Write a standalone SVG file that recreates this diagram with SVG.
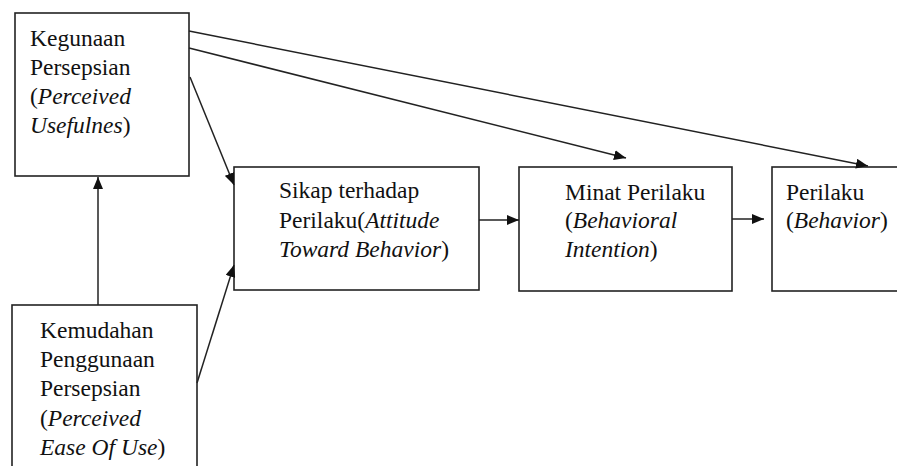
<svg xmlns="http://www.w3.org/2000/svg" width="897" height="466" viewBox="0 0 897 466">
<style>
.box{fill:#fff;stroke:#222;stroke-width:1.6}
.ln{fill:none;stroke:#222;stroke-width:1.5;marker-end:url(#ah)}
.t{font-size:23.5px;fill:#111}
.i{font-style:italic}
</style>
<defs>
<marker id="ah" viewBox="0 0 12 10" refX="12" refY="5" markerWidth="12" markerHeight="10" markerUnits="userSpaceOnUse" orient="auto">
<path d="M0,0 L12,5 L0,10 Z" fill="#111"/>
</marker>
</defs>
<g class="t" font-family="Liberation Serif, Times New Roman, Tinos, DejaVu Serif, serif">
<g id="n1">
<rect class="box" x="15" y="13" width="174" height="163"/>
<text x="30" y="46">Kegunaan</text>
<text x="30" y="75">Persepsian</text>
<text x="30" y="104">(<tspan class="i">Perceived</tspan></text>
<text x="30" y="133"><tspan class="i">Usefulnes</tspan>)</text>
</g>
<g id="n2">
<rect class="box" x="12" y="305" width="185" height="175"/>
<text x="40" y="338">Kemudahan</text>
<text x="40" y="367">Penggunaan</text>
<text x="40" y="396">Persepsian</text>
<text x="40" y="426">(<tspan class="i">Perceived</tspan></text>
<text x="40" y="455"><tspan class="i">Ease Of Use</tspan>)</text>
</g>
<g id="n3">
<rect class="box" x="234" y="167" width="245" height="123"/>
<text x="279" y="198">Sikap terhadap</text>
<text x="279" y="228">Perilaku(<tspan class="i">Attitude</tspan></text>
<text x="279" y="257"><tspan class="i">Toward Behavior</tspan>)</text>
</g>
<g id="n4">
<rect class="box" x="519" y="167" width="213" height="124"/>
<text x="565" y="200">Minat Perilaku</text>
<text x="565" y="228">(<tspan class="i">Behavioral</tspan></text>
<text x="565" y="257"><tspan class="i">Intention</tspan>)</text>
</g>
<g id="n5">
<rect class="box" x="772" y="167" width="140" height="124"/>
<text x="786" y="200">Perilaku</text>
<text x="786" y="228">(<tspan class="i">Behavior</tspan>)</text>
</g>
</g>
<g id="connectors">
<line class="ln" x1="98" y1="305" x2="98" y2="177"/>
<line class="ln" x1="190" y1="77" x2="234" y2="185"/>
<line class="ln" x1="197" y1="383" x2="234" y2="265"/>
<line class="ln" x1="479" y1="220" x2="519" y2="220"/>
<line class="ln" x1="732" y1="219" x2="764" y2="219"/>
<line class="ln" x1="189" y1="48" x2="626" y2="158"/>
<line class="ln" x1="189" y1="31" x2="868" y2="166"/>
</g>
</svg>
